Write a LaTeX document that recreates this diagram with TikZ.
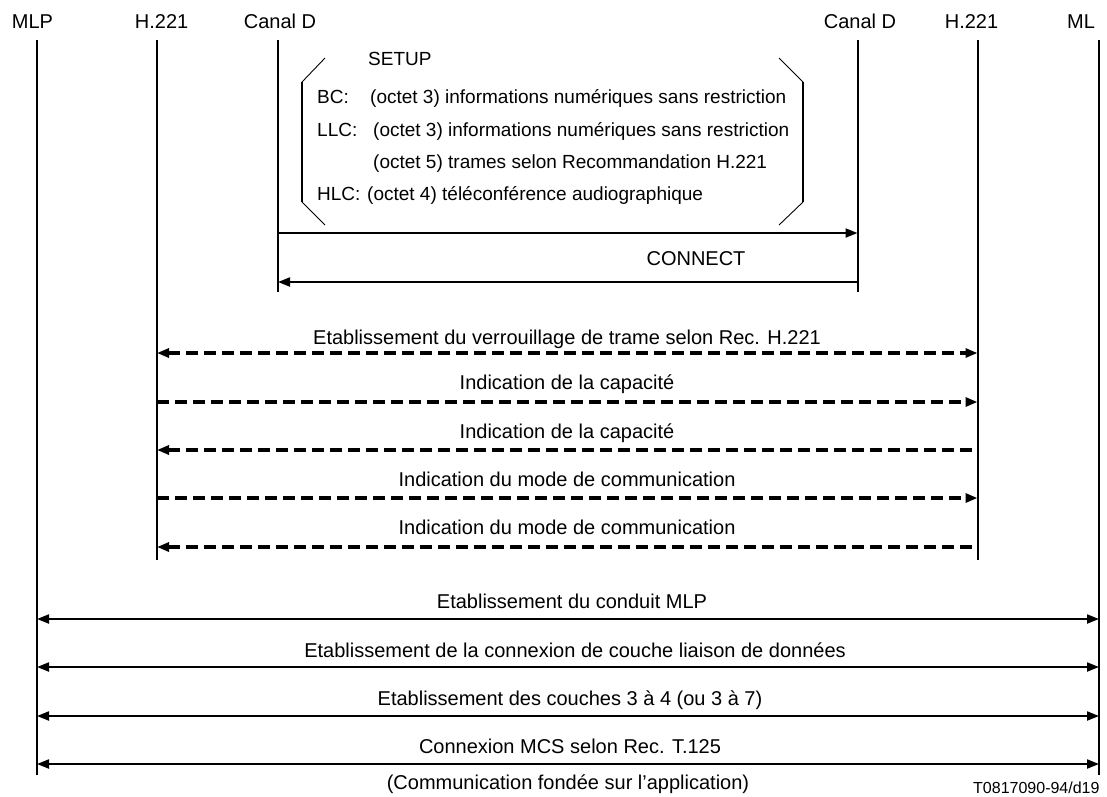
\documentclass[tikz,border=0pt]{standalone}
\usepackage{fontspec}
\setmainfont{Liberation Sans}
\usetikzlibrary{arrows.meta}
\begin{document}
\begin{tikzpicture}[x=1pt,y=-1pt,
  hdr/.style={font=\fontsize{20}{24}\selectfont, inner sep=0pt, anchor=base},
  lbl/.style={font=\fontsize{20}{24}\selectfont, inner sep=0pt, anchor=base},
  boxt/.style={font=\fontsize{19}{23}\selectfont, inner sep=0pt, anchor=base west},
  life/.style={line width=2pt},
  msg/.style={line width=2pt},
  dmsg/.style={line width=3.3pt, dash pattern=on 12pt off 6pt},
  hd/.style={-{Triangle[length=12pt,width=9pt]}},
  hdb/.style={{Triangle[length=12pt,width=9pt]}-{Triangle[length=12pt,width=9pt]}},
  hdl/.style={{Triangle[length=12pt,width=9pt]}-},
  brk/.style={line width=2pt},
  brkd/.style={line width=0.9pt},
  ]
\useasboundingbox (0,0) rectangle (1107,796);

% headers
\node[hdr] (tMLP) at (32.5,28) {MLP};
\node[hdr] (tH1) at (161.6,28) {H.221};
\node[hdr] (tCD1) at (280,28) {Canal D};
\node[hdr] (tCD2) at (860,28) {Canal D};
\node[hdr] (tH2) at (971.5,28) {H.221};
\node[hdr] (tML) at (1081,28) {ML};

% lifelines
\coordinate (mlp1a) at (37,40);   \coordinate (mlp1b) at (37,775);
\coordinate (h1a) at (157,40);    \coordinate (h1b) at (157,560);
\coordinate (cd1a) at (278,40);   \coordinate (cd1b) at (278,292);
\coordinate (cd2a) at (857.5,40); \coordinate (cd2b) at (857.5,292);
\coordinate (h2a) at (977.5,40);  \coordinate (h2b) at (977.5,560);
\coordinate (mlp2a) at (1099,40); \coordinate (mlp2b) at (1099,775);
\foreach \a/\b in {mlp1a/mlp1b,h1a/h1b,cd1a/cd1b,cd2a/cd2b,h2a/h2b,mlp2a/mlp2b}
  \draw[life] (\a) -- (\b);

% SETUP brackets
\draw[brkd] (325,58) -- (302,82);
\draw[brk] (302,82) -- (302,202);
\draw[brkd] (302,202) -- (325,225);
\draw[brkd] (779,58) -- (803,82);
\draw[brk] (803,82) -- (803,202);
\draw[brkd] (803,202) -- (779,225);

% SETUP contents
\node[boxt] (setup) at (368,65) {SETUP};
\node[boxt] (bc) at (317,103) {BC:};
\node[boxt] (bct) at (370,103) {(octet 3) informations numériques sans restriction};
\node[boxt] (llc) at (317,136) {LLC:};
\node[boxt] (llct) at (373,136) {(octet 3) informations numériques sans restriction};
\node[boxt] (llct2) at (373,168) {(octet 5) trames selon Recommandation H.221};
\node[boxt] (hlc) at (317,200) {HLC:};
\node[boxt] (hlct) at (367,200) {(octet 4) téléconférence audiographique};

% SETUP / CONNECT
\coordinate (s1) at (278,233); \coordinate (s2) at (857.5,233);
\draw[msg,hd] (s1) -- (s2);
\node[lbl] (conn) at (696,265) {CONNECT};
\coordinate (c1) at (857.5,282); \coordinate (c2) at (278,282);
\draw[msg,hd] (c1) -- (c2);

% H.221 dashed
\coordinate (d1l) at (157,353); \coordinate (d1r) at (977.5,353);
\draw[dmsg,hdb] (d1l) -- (d1r);
\node[lbl] (l1) at (567,344) {Etablissement du verrouillage de trame selon Rec. H.221};
\coordinate (d2l) at (157,402); \coordinate (d2r) at (977.5,402);
\draw[dmsg,hd] (d2l) -- (d2r);
\node[lbl] (l2) at (567,389) {Indication de la capacité};
\coordinate (d3l) at (157,450); \coordinate (d3r) at (977.5,450);
\draw[dmsg,hdl] (d3l) -- (d3r);
\node[lbl] (l3) at (567,438) {Indication de la capacité};
\coordinate (d4l) at (157,498); \coordinate (d4r) at (977.5,498);
\draw[dmsg,hd] (d4l) -- (d4r);
\node[lbl] (l4) at (567,486) {Indication du mode de communication};
\coordinate (d5l) at (157,547); \coordinate (d5r) at (977.5,547);
\draw[dmsg,hdl] (d5l) -- (d5r);
\node[lbl] (l5) at (567,534) {Indication du mode de communication};

% MLP solid
\coordinate (m1l) at (37,619); \coordinate (m1r) at (1099,619);
\draw[msg,hdb] (m1l) -- (m1r);
\node[lbl] (k1) at (572,608) {Etablissement du conduit MLP};
\coordinate (m2l) at (37,667); \coordinate (m2r) at (1099,667);
\draw[msg,hdb] (m2l) -- (m2r);
\node[lbl] (k2) at (575,657) {Etablissement de la connexion de couche liaison de données};
\coordinate (m3l) at (37,716); \coordinate (m3r) at (1099,716);
\draw[msg,hdb] (m3l) -- (m3r);
\node[lbl] (k3) at (570,705) {Etablissement des couches 3 à 4 (ou 3 à 7)};
\coordinate (m4l) at (37,764); \coordinate (m4r) at (1099,764);
\draw[msg,hdb] (m4l) -- (m4r);
\node[lbl] (k4) at (570,753) {Connexion MCS selon Rec. T.125};
\node[lbl] (k5) at (568,789) {(Communication fondée sur l'application)};

\node[font=\fontsize{16}{19}\selectfont, inner sep=0pt, anchor=base west] (ref) at (973,793) {T0817090-94/d19};
\end{tikzpicture}
\end{document}
